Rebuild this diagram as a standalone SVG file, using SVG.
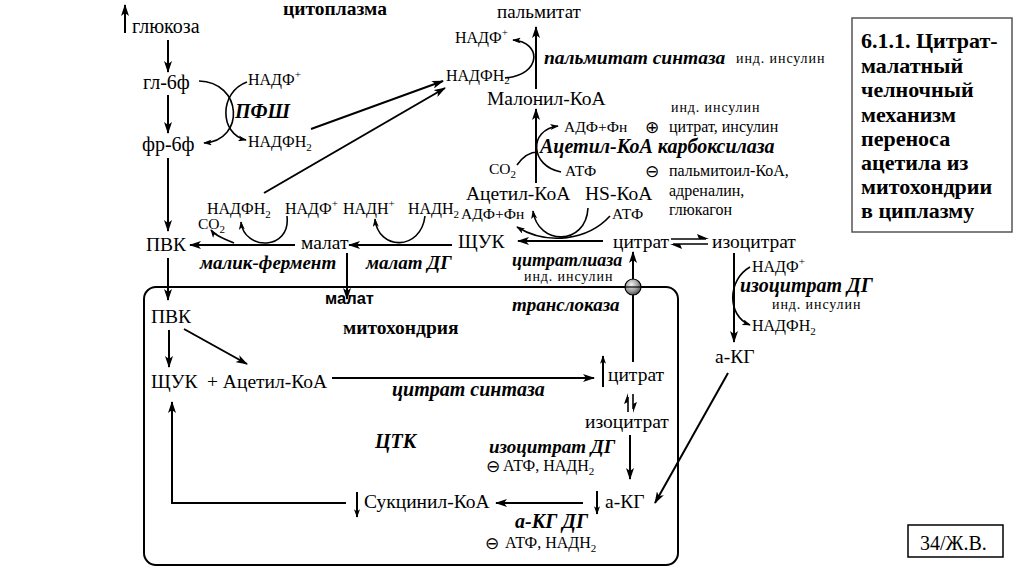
<svg xmlns="http://www.w3.org/2000/svg" width="1024" height="574" viewBox="0 0 1024 574" font-family="'Liberation Serif', 'DejaVu Serif', serif">
<defs>
<style>
.l{font-size:19.5px}
.m{font-size:16px}
.s{font-size:15.5px}
.r{font-size:16px}
.ind{font-size:14px;letter-spacing:0.9px}
.e{font-size:20px;font-weight:bold;font-style:italic}
.b{font-size:19.5px;font-weight:bold}
.t{font-size:22px;font-weight:bold}
.sym{font-family:'DejaVu Sans',sans-serif;font-size:17px}
.ln{fill:none;stroke:#000;stroke-width:2}
.arc{fill:none;stroke:#000;stroke-width:1.6}
</style>
<marker id="ah" viewBox="0 0 12 8" refX="11" refY="4" markerWidth="12" markerHeight="8" markerUnits="userSpaceOnUse" orient="auto"><path d="M0,0 L12,4 L0,8 L3,4z" fill="#000"/></marker>
<marker id="as" viewBox="0 0 10 7" refX="9" refY="3.5" markerWidth="9" markerHeight="6" markerUnits="userSpaceOnUse" orient="auto"><path d="M0,0 L10,3.5 L0,7 L2.5,3.5z" fill="#000"/></marker>
<radialGradient id="gball" cx="0.4" cy="0.35" r="0.7"><stop offset="0" stop-color="#f2f2f2"/><stop offset="0.6" stop-color="#9a9a9a"/><stop offset="1" stop-color="#444"/></radialGradient>
</defs>
<rect width="1024" height="574" fill="#fff"/>

<g id="mitochondria-compartment">
<rect x="144" y="287" width="534" height="278" rx="12" fill="none" stroke="#000" stroke-width="2"/>
</g>

<g id="connectors">
<line class="ln" x1="125" y1="33" x2="125" y2="5" marker-end="url(#ah)"/>
<line class="ln" x1="168" y1="40" x2="168" y2="72" marker-end="url(#ah)"/>
<line class="ln" x1="168" y1="95" x2="168" y2="133" marker-end="url(#ah)"/>
<line class="ln" x1="168" y1="158" x2="168" y2="231" marker-end="url(#ah)"/>
<line class="ln" x1="168" y1="258" x2="168" y2="300" marker-end="url(#ah)"/>
<path class="arc" d="M199,81 C242,82 246,140 204,143" marker-end="url(#as)"/>
<path class="arc" d="M247,82 C219,92 219,134 246,140" marker-end="url(#as)"/>
<line class="ln" x1="311" y1="129" x2="443" y2="81" marker-end="url(#ah)"/>
<line class="ln" x1="264" y1="193" x2="445" y2="88" marker-end="url(#ah)"/>
<line class="ln" x1="536" y1="89" x2="536" y2="27" marker-end="url(#ah)"/>
<path class="arc" d="M505,78 C542,75 542,42 513,40" marker-end="url(#as)"/>
<line class="ln" x1="536" y1="183" x2="536" y2="109" marker-end="url(#ah)"/>
<path class="arc" d="M561,172 C530,166 528,130 558,126" marker-end="url(#as)"/>
<path class="arc" d="M517,165 C524,155 531,152 538,152"/>
<line class="ln" x1="603" y1="241" x2="518" y2="241" marker-end="url(#ah)"/>
<path class="arc" d="M588,208 C586,246 538,246 533,211" marker-end="url(#as)"/>
<path class="arc" d="M610,216 C588,240 548,246 517,227" marker-end="url(#as)"/>
<line x1="671" y1="239" x2="706" y2="239" stroke="#000" stroke-width="1.6"/>
<path d="M709,239 L697,234 L699,239z" fill="#000"/>
<line x1="673" y1="244" x2="708" y2="244" stroke="#000" stroke-width="1.6"/>
<path d="M670,244 L682,249 L680,244z" fill="#000"/>
<line class="ln" x1="452" y1="245" x2="349" y2="245" marker-end="url(#ah)"/>
<line class="ln" x1="295" y1="245" x2="190" y2="245" marker-end="url(#ah)"/>
<path class="arc" d="M287,216 C291,251 244,251 241,222" marker-end="url(#as)"/>
<path class="arc" d="M234,243 C226,239 216,237 211,230" marker-end="url(#as)"/>
<path class="arc" d="M425,216 C421,251 378,251 375,219" marker-end="url(#as)"/>
<line class="ln" x1="347" y1="253" x2="347" y2="299" marker-end="url(#ah)"/>
<line class="ln" x1="633" y1="362" x2="633" y2="252" marker-end="url(#ah)"/>
<line class="ln" x1="734" y1="253" x2="734" y2="342" marker-end="url(#ah)"/>
<path class="arc" d="M750,267 C727,280 727,316 750,325" marker-end="url(#as)"/>
<line class="ln" x1="728" y1="373" x2="655" y2="503" marker-end="url(#ah)"/>
<line class="ln" x1="169" y1="330" x2="169" y2="367" marker-end="url(#ah)"/>
<line class="ln" x1="184" y1="329" x2="247" y2="364" marker-end="url(#ah)"/>
<line class="ln" x1="332" y1="378" x2="594" y2="378" marker-end="url(#ah)"/>
<line class="ln" x1="603" y1="387" x2="603" y2="356" marker-end="url(#as)"/>
<line x1="628" y1="397" x2="628" y2="412" stroke="#000" stroke-width="1.6"/>
<path d="M628,393 L624,404 L628,402z" fill="#000"/>
<line x1="633" y1="394" x2="633" y2="409" stroke="#000" stroke-width="1.6"/>
<path d="M633,413 L637,402 L633,404z" fill="#000"/>
<line class="ln" x1="630" y1="435" x2="630" y2="479" marker-end="url(#ah)"/>
<line class="ln" x1="597" y1="491" x2="597" y2="514" marker-end="url(#as)"/>
<line class="ln" x1="583" y1="503" x2="496" y2="503" marker-end="url(#ah)"/>
<line class="ln" x1="357" y1="492" x2="357" y2="517" marker-end="url(#as)"/>
<polyline class="ln" points="346,503 172,503 172,402" marker-end="url(#ah)"/>
</g>

<g id="translocase">
<circle cx="633" cy="287" r="8" fill="url(#gball)" stroke="#000" stroke-width="1.2"/>
<line x1="625" y1="287" x2="641" y2="287" stroke="#000" stroke-width="1.2"/>
<text class="e" x="512" y="311" style="font-size:19px">транслоказа</text>
</g>

<g id="cytoplasm-label"><text class="b" x="283" y="15">цитоплазма</text></g>
<g id="glucose"><text x="132" y="33" font-size="20">глюкоза</text></g>
<g id="gl6p"><text x="143" y="89" font-size="20">гл-6ф</text></g>
<g id="fr6p"><text x="142" y="151" font-size="20">фр-6ф</text></g>
<g id="pfs">
<text class="m" x="248" y="85">НАДФ<tspan font-size="11" dy="-7">+</tspan></text>
<text class="e" x="235" y="118">ПФШ</text>
<text class="m" x="248" y="147">НАДФН<tspan font-size="11" dy="4">2</tspan></text>
</g>
<g id="palmitate"><text x="497" y="18" font-size="19">пальмитат</text></g>
<g id="palmitate-synthase">
<text class="m" x="455" y="43">НАДФ<tspan font-size="11" dy="-7">+</tspan></text>
<text class="m" x="446" y="81">НАДФН<tspan font-size="11" dy="3">2</tspan></text>
<text class="e" x="544" y="64" style="font-size:19.5px">пальмитат синтаза</text>
<text class="ind" x="736" y="63">инд. инсулин</text>
</g>
<g id="malonyl-coa"><text class="l" x="487" y="105">Малонил-КоА</text></g>
<g id="acc">
<text class="s" x="564" y="132">АДФ+Фн</text>
<text class="s" x="489" y="174">CO<tspan font-size="11" dy="4">2</tspan></text>
<text class="s" x="565" y="176">АТФ</text>
<text class="e" x="540" y="153">Ацетил-КоА карбоксилаза</text>
<text class="ind" x="671" y="112">инд. инсулин</text>
<text class="sym" x="645" y="133">⊕</text>
<text class="r" x="669" y="132">цитрат, инсулин</text>
<text class="sym" x="645" y="177">⊖</text>
<text class="r" x="669" y="176">пальмитоил-КоА,</text>
<text class="r" x="669" y="196">адреналин,</text>
<text class="r" x="669" y="215">глюкагон</text>
</g>
<g id="acetyl-coa-cyto"><text class="l" x="466" y="200">Ацетил-КоА</text></g>
<g id="hs-coa"><text class="l" x="585" y="200">HS-КоА</text></g>
<g id="citrate-lyase">
<text class="s" x="461" y="219">АДФ+Фн</text>
<text class="s" x="612" y="219">АТФ</text>
<text class="e" x="512" y="266" style="font-size:18px">цитратлиаза</text>
<text class="ind" x="524" y="281">инд. инсулин</text>
</g>
<g id="oaa-cyto"><text class="l" x="458" y="248">ЩУК</text></g>
<g id="citrate-cyto"><text class="l" x="613" y="248">цитрат</text></g>
<g id="isocitrate-cyto"><text class="l" x="712" y="248">изоцитрат</text></g>
<g id="malate-cyto"><text class="l" x="301" y="249">малат</text></g>
<g id="pvk-cyto"><text class="l" x="146" y="251">ПВК</text></g>
<g id="malic-enzyme">
<text class="m" x="207" y="214">НАДФН<tspan font-size="11" dy="4">2</tspan></text>
<text class="m" x="285" y="214">НАДФ<tspan font-size="11" dy="-7">+</tspan></text>
<text class="s" x="198" y="229">CO<tspan font-size="11" dy="4">2</tspan></text>
<text class="e" x="200" y="269" style="font-size:19px">малик-фермент</text>
</g>
<g id="malate-dh">
<text class="m" x="343" y="214">НАДН<tspan font-size="11" dy="-7">+</tspan></text>
<text class="m" x="408" y="214">НАДН<tspan font-size="11" dy="4">2</tspan></text>
<text class="e" x="366" y="269" style="font-size:19px">малат ДГ</text>
</g>
<g id="isocitrate-dh-cyto">
<text class="m" x="752" y="272">НАДФ<tspan font-size="11" dy="-7">+</tspan></text>
<text class="e" x="740" y="292">изоцитрат ДГ</text>
<text class="ind" x="772" y="309">инд. инсулин</text>
<text class="m" x="752" y="331">НАДФН<tspan font-size="11" dy="4">2</tspan></text>
</g>
<g id="akg-cyto"><text class="l" x="715" y="363">а-КГ</text></g>

<g id="malate-mito"><text x="325" y="304" font-family="'Liberation Sans', Arial, sans-serif" font-size="16.5" font-weight="bold">малат</text></g>
<g id="mito-label"><text class="b" x="343" y="334">митохондрия</text></g>
<g id="pvk-mito"><text class="l" x="151" y="323">ПВК</text></g>
<g id="oaa-acetyl-mito"><text class="l" x="151" y="388">ЩУК</text><text class="l" x="207" y="388">+ Ацетил-КоА</text></g>
<g id="citrate-synthase"><text class="e" x="392" y="396">цитрат синтаза</text></g>
<g id="citrate-mito"><text class="l" x="608" y="381">цитрат</text></g>
<g id="isocitrate-mito"><text class="l" x="585" y="428">изоцитрат</text></g>
<g id="tca"><text class="e" x="375" y="448">ЦТК</text></g>
<g id="isocitrate-dh-mito">
<text class="e" x="489" y="453" style="font-size:19px">изоцитрат ДГ</text>
<text class="sym" x="486" y="472">⊖</text>
<text class="r" x="503" y="471">АТФ, НАДН<tspan font-size="11" dy="4">2</tspan></text>
</g>
<g id="akg-mito"><text class="l" x="605" y="508">а-КГ</text></g>
<g id="succinyl-coa"><text class="l" x="364" y="508">Сукцинил-КоА</text></g>
<g id="akg-dh">
<text class="e" x="515" y="528">а-КГ ДГ</text>
<text class="sym" x="485" y="549">⊖</text>
<text class="r" x="505" y="548">АТФ, НАДН<tspan font-size="11" dy="4">2</tspan></text>
</g>

<g id="title-box">
<rect x="852" y="18" width="160" height="214" fill="#fff" stroke="#555" stroke-width="1.5"/>
<text class="t" x="861" y="48">6.1.1. Цитрат-</text>
<text class="t" x="861" y="73">малатный</text>
<text class="t" x="861" y="97">челночный</text>
<text class="t" x="861" y="122">механизм</text>
<text class="t" x="861" y="146">переноса</text>
<text class="t" x="861" y="170">ацетила из</text>
<text class="t" x="861" y="194">митохондрии</text>
<text class="t" x="861" y="218">в циплазму</text>
</g>
<g id="page-label">
<rect x="908" y="525" width="95" height="32" fill="#fff" stroke="#000" stroke-width="1.5"/>
<text x="920" y="550" font-size="20">34/Ж.В.</text>
</g>
</svg>
